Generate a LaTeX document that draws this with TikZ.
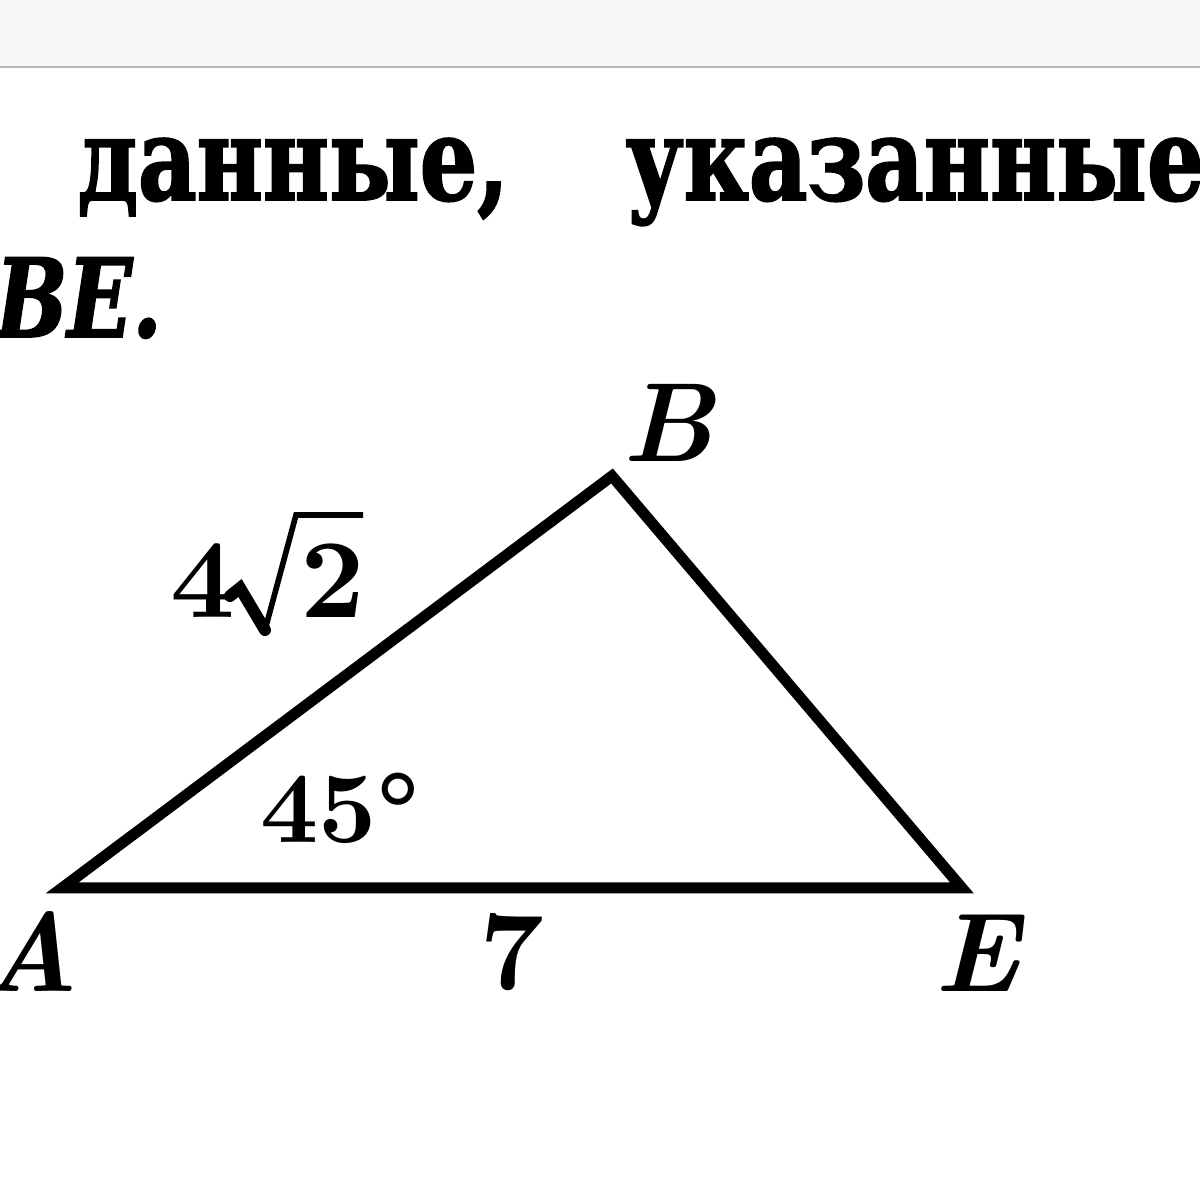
\documentclass[tikz,border=0pt]{standalone}
\usepackage{fontspec}
\newfontfamily\cyrfont[FakeStretch=0.78,FakeBold=1.6]{DejaVu Serif}
\begin{document}
\begin{tikzpicture}[x=1cm,y=1cm,
  lbl/.style={inner sep=0, font=\bfseries\itshape, scale=3.2, transform shape},
  num/.style={inner sep=0, font=\bfseries, scale=3.2, transform shape},
  txt/.style={inner sep=0, anchor=base west, font=\fontsize{33}{40}\selectfont\cyrfont\bfseries},
  side/.style={line width=0.11cm},
  radthick/.style={line width=3.4pt, line cap=round},
  radthin/.style={line width=1.6pt}]
\useasboundingbox (0,0) rectangle (12,12);
\fill[gray!6] (0,11.34) rectangle (12,12);
\draw[gray!55, line width=0.6pt] (0,11.33) -- (12,11.33);
\node[txt] (t1) at (0.77,10.0) {данные,};
\node[txt] (t2) at (6.25,10.0) {указанные};
\node[inner sep=0, anchor=base west, font=\fontsize{31}{37}\selectfont\cyrfont\bfseries\itshape] (t3) at (-0.05,8.63) {BE.};
\coordinate (A) at (0.62,3.12);
\coordinate (B) at (6.12,7.24);
\coordinate (E) at (9.62,3.12);
\draw[side] (A) -- (B) -- (E) -- cycle;
\node[lbl, anchor=base] (la) at (0.3,2.08) {A};
\node[lbl, anchor=base west] (lb) at (6.2,7.38) {B};
\node[lbl, anchor=base] (le) at (9.77,2.08) {E};
% 4 sqrt 2
\node[num, anchor=base west] (n4) at (1.68,5.82) {4};
\node[num, anchor=base west] (n2) at (2.98,5.82) {2};
\coordinate (r1) at (2.30,6.04);
\coordinate (r2) at (2.40,6.12);
\coordinate (r3) at (2.65,5.70);
\coordinate (r4) at (2.96,6.85);
\coordinate (r5) at (3.63,6.85);
\draw[radthick] (r1) -- (r2) -- (r3);
\draw[radthin] (r3) -- (r4) -- (r5);
\node[num, anchor=base west, scale=0.9] (s2) at (2.58,3.57) {\bfseries 45\textdegree};
\node[num, anchor=base] (s3) at (5.12,2.10) {7};
\end{tikzpicture}
\end{document}
